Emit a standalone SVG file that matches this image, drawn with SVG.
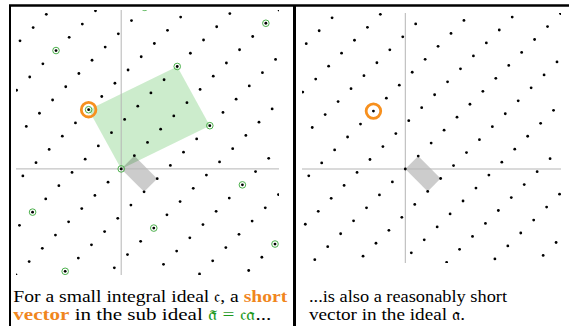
<svg xmlns="http://www.w3.org/2000/svg" width="569" height="326" viewBox="0 0 569 326">
<style>
.ax{stroke:#b5b5b5;stroke-width:1;fill:none}
.gr{fill:#000;fill-opacity:.2}
.gn{fill:#00a000;fill-opacity:.2}
.gc{fill:none;stroke:#4cb04c;stroke-width:1}
.oc{fill:none;stroke:#f7901e;stroke-width:2.8}
.dot{fill:#000}
.t{font-family:"Liberation Serif","DejaVu Serif",serif;font-size:16px;fill:#000}
.o{fill:#f0861e;font-weight:bold}
.g{fill:#1f9a1f}
.fr{stroke:#000;fill:none}
</style>
<defs>
<clipPath id="clipL"><rect x="16" y="10" width="263" height="265"/></clipPath>
<clipPath id="clipR"><rect x="302" y="13" width="259" height="250"/></clipPath>
<circle id="d" class="dot" r="1.4"/>
<g id="lr1"><use href="#d"/><use href="#d" transform="translate(13.15,-13.24)"/></g>
<g id="lr2"><use href="#lr1"/><use href="#lr1" transform="translate(26.3,-26.48)"/></g>
<g id="lr3"><use href="#lr2"/><use href="#lr2" transform="translate(52.6,-52.96)"/></g>
<g id="lr4"><use href="#lr3"/><use href="#lr3" transform="translate(105.2,-105.92)"/></g>
<g id="lr5"><use href="#lr4"/><use href="#lr4" transform="translate(210.4,-211.84)"/></g>
<g id="lc1"><use href="#lr5"/><use href="#lr5" transform="translate(9.72,36.21)"/></g>
<g id="lc2"><use href="#lc1"/><use href="#lc1" transform="translate(19.44,72.42)"/></g>
<g id="lc3"><use href="#lc2"/><use href="#lc2" transform="translate(38.88,144.84)"/></g>
<g id="lc4"><use href="#lc3"/><use href="#lc3" transform="translate(77.76,289.68)"/></g>
<g id="rr1"><use href="#d"/><use href="#d" transform="translate(12.93,-12.95)"/></g>
<g id="rr2"><use href="#rr1"/><use href="#rr1" transform="translate(25.86,-25.9)"/></g>
<g id="rr3"><use href="#rr2"/><use href="#rr2" transform="translate(51.72,-51.8)"/></g>
<g id="rr4"><use href="#rr3"/><use href="#rr3" transform="translate(103.44,-103.6)"/></g>
<g id="rr5"><use href="#rr4"/><use href="#rr4" transform="translate(206.88,-207.2)"/></g>
<g id="rc1"><use href="#rr5"/><use href="#rr5" transform="translate(9.47,35.42)"/></g>
<g id="rc2"><use href="#rc1"/><use href="#rc1" transform="translate(18.94,70.84)"/></g>
<g id="rc3"><use href="#rc2"/><use href="#rc2" transform="translate(37.88,141.68)"/></g>
<g id="rc4"><use href="#rc3"/><use href="#rc3" transform="translate(75.76,283.36)"/></g>
</defs>
<rect width="569" height="326" fill="#fff"/>
<g id="left-panel" clip-path="url(#clipL)">
<polygon id="sub-ideal-cell" class="gn" points="121.2,168.9 88.61,109.72 177.23,66.49 209.82,125.67"/>
<polygon id="ideal-cell-left" class="gr" points="121.2,168.9 134.35,155.66 157.22,178.63 144.07,191.87"/>
<line class="ax" x1="16" y1="168.9" x2="279" y2="168.9"/>
<line class="ax" x1="121.2" y1="10" x2="121.2" y2="275"/>
<use href="#lc4" transform="translate(-78.34,47.83)"/>
<g id="sub-ideal-points">
<circle class="gc" r="3.3" cx="121.2" cy="168.9"/>
<circle class="gc" r="3.3" cx="88.61" cy="109.72"/>
<circle class="gc" r="3.3" cx="56.02" cy="50.54"/>
<circle class="gc" r="3.3" cx="153.79" cy="228.08"/>
<circle class="gc" r="3.3" cx="209.82" cy="125.67"/>
<circle class="gc" r="3.3" cx="177.23" cy="66.49"/>
<circle class="gc" r="3.3" cx="144.64" cy="7.31"/>
<circle class="gc" r="3.3" cx="242.41" cy="184.85"/>
<circle class="gc" r="3.3" cx="275" cy="244.03"/>
<circle class="gc" r="3.3" cx="265.85" cy="23.26"/>
<circle class="gc" r="3.3" cx="32.58" cy="212.13"/>
<circle class="gc" r="3.3" cx="65.17" cy="271.31"/>
</g>
<circle id="short-vector-left" class="oc" r="7.3" cx="88.61" cy="109.72"/>
</g>
<g id="right-panel" clip-path="url(#clipR)">
<polygon id="ideal-cell-right" class="gr" points="405.3,169 418.23,156.05 440.63,178.52 427.7,191.47"/>
<line class="ax" x1="302" y1="169" x2="561" y2="169"/>
<line class="ax" x1="405.3" y1="13" x2="405.3" y2="263"/>
<use href="#rc4" transform="translate(209.71,50.56)"/>
<circle id="short-vector-right" class="oc" r="7.3" cx="373.43" cy="111.11"/>
</g>
<g id="frame">
<line class="fr" stroke-width="2.5" x1="9" y1="5.5" x2="569" y2="5.5"/>
<line class="fr" stroke-width="2" x1="10" y1="5" x2="10" y2="326"/>
<line class="fr" stroke-width="3" x1="294.5" y1="5" x2="294.5" y2="326"/>
</g>
<g id="caption-left">
<text class="t" x="13.3" y="301.5" textLength="274" lengthAdjust="spacingAndGlyphs">For a small integral ideal 𝔠, a <tspan class="o">short</tspan></text>
<text class="t" x="13.3" y="320" textLength="258" lengthAdjust="spacingAndGlyphs"><tspan class="o">vector</tspan> in the sub ideal <tspan class="g">𝔞̃ = 𝔠𝔞</tspan>...</text>
</g>
<g id="caption-right">
<text class="t" x="309" y="301.5" textLength="198" lengthAdjust="spacingAndGlyphs">...is also a reasonably short</text>
<text class="t" x="309" y="320" textLength="156" lengthAdjust="spacingAndGlyphs">vector in the ideal 𝔞.</text>
</g>
</svg>
